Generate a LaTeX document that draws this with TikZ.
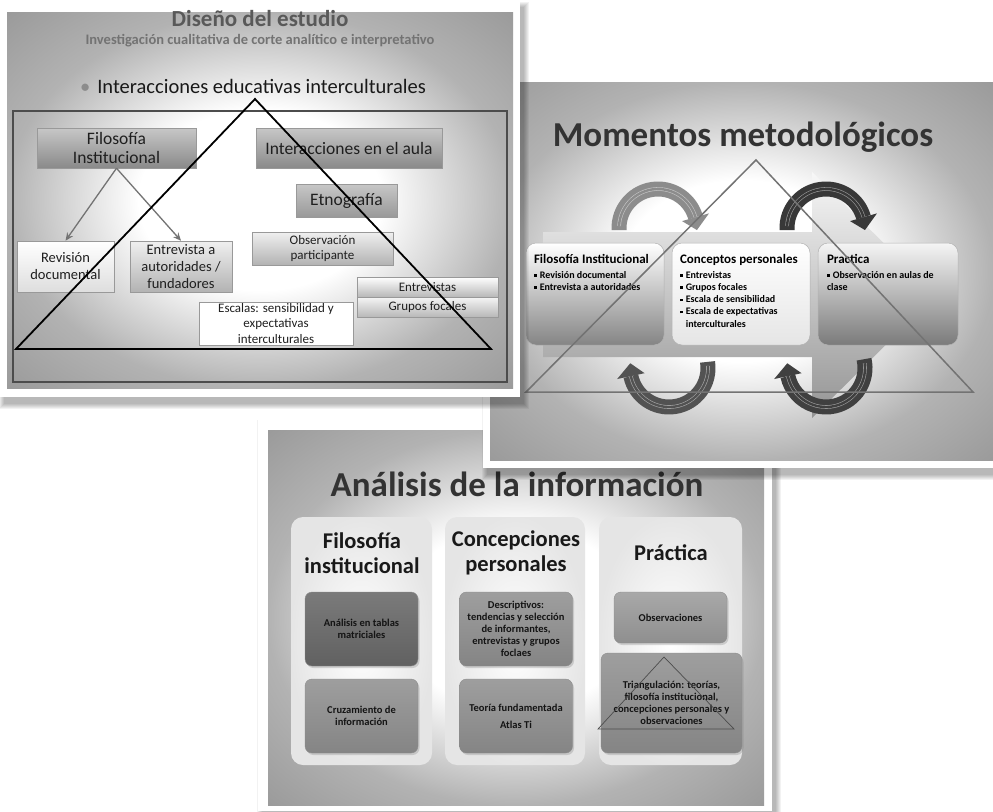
\documentclass[tikz,border=0pt]{standalone}
\usepackage{fontspec}
\setmainfont{Carlito}
\usetikzlibrary{arrows.meta,shadows}

\pgfdeclareradialshading{slideshade}{\pgfpoint{0bp}{0bp}}{%
  color(0bp)=(white); color(12bp)=(white); color(25bp)=(black!30); color(36bp)=(black!40); color(50bp)=(black!42)}

%% soft shadow under a slide
\newcommand\slideshadow[4]{%
  \foreach \k in {0,...,5}
    \fill[black,opacity=.05] ({#1+4-\k},{#2+7-\k}) rectangle ({#3+4+\k},{#4+7+\k});
}
%% curved block arrow: centre, start, end, tip angle, colour
\newcommand\roundarrow[5]{%
  \draw[#5, line width=15pt] ([shift={(#2:39)}]#1) arc[start angle=#2, end angle=#3, radius=39];
  \draw[white!50!#5, line width=.6pt, double=#5, double distance=2.4pt]
    ([shift={({#2+6}:39)}]#1) arc[start angle={#2+6}, end angle=#3, radius=39];
  \fill[#5] ([shift={(#3:53)}]#1) -- ([shift={(#4:39)}]#1) -- ([shift={(#3:25)}]#1) -- cycle;
}
\newcommand\mbul{\par\hangindent=5.8pt\hangafter=1\noindent\rule[1.6pt]{2.6pt}{2.6pt}\hspace{3.2pt}}
\newcommand\mtext[2]{\parbox[c][80pt][t]{122pt}{\raggedright
  {\fontsize{13}{15}\selectfont\bfseries #1\par}\vspace{3pt}%
  \fontsize{10}{12.2}\selectfont\bfseries #2\par}}

\tikzset{
  ttl/.style={font=\fontsize{35}{40}\selectfont\bfseries, text=black!80},
  dbox/.style={draw=black!40, line width=.5pt, top color=black!22, bottom color=black!46,
    text=black!88, align=center, inner sep=0pt},
  lbox/.style={dbox, top color=black!6, bottom color=black!30},
  farrow/.style={draw=black!55, line width=1.3pt, -{Stealth[length=8pt,width=7pt]}},
  mbox/.style={draw=black!30, line width=.5pt, rounded corners=10pt, inner xsep=8pt,
    inner ysep=11pt, minimum width=138pt},
  panel/.style={rounded corners=12pt, inner color=white, outer color=black!10, minimum height=248pt},
  phead/.style={font=\fontsize{22.5}{25}\selectfont\bfseries, align=center, text=black!90},
  abox/.style={rounded corners=7pt, draw=black!45, line width=.4pt, top color=black!38,
    bottom color=black!48, align=center, minimum width=113pt, minimum height=74pt,
    font=\fontsize{10.5}{12}\selectfont\bfseries, text=black!92,
    drop shadow={opacity=.3, shadow xshift=1.5pt, shadow yshift=-2pt}},
}

\begin{document}
\begin{tikzpicture}[x=1pt,y=-1pt]
  \useasboundingbox[fill=white] (0,0) rectangle (993,811);

  %% slide 3: analisis
  \slideshadow{258}{418}{772}{811}
  \fill[white] (258,418) rectangle (772,811);
  \shade[shading=slideshade] (268,430) rectangle (764,805);
  \node[ttl] (tanalisis) at (517,484) {Análisis de la información};
  \node[panel, minimum width=141pt] (pfilo) at (361.5,641) {};
  \node[panel, minimum width=140pt] (pconc) at (515,641) {};
  \node[panel, minimum width=143pt] (pprac) at (670.5,641) {};
  \node[phead] (hfilo) at (362,553) {Filosofía\\institucional};
  \node[phead] (hconc) at (516,553) {Concepciones\\personales};
  \node[phead] (hprac) at (671,553) {Práctica};
  \node[abox, top color=black!52, bottom color=black!62] (tablas) at (361.5,629) {Análisis en tablas\\matriciales};
  \node[abox] (cruce) at (361.5,716) {Cruzamiento de\\información};
  \node[abox] (descr) at (516,629) {Descriptivos:\\tendencias y selección\\de informantes,\\entrevistas y grupos\\foclaes};
  \node[abox] (teoria) at (516,716) {Teoría fundamentada\\[5pt]Atlas Ti};
  \node[abox, minimum height=51pt, top color=black!34, bottom color=black!44] (observ) at (670.5,617.5) {Observaciones};
  \node[abox, minimum width=141pt, minimum height=100pt] (triang) at (671.5,703) {Triangulación: teorías,\\filosofía institucional,\\concepciones personales y\\observaciones};
  \draw[black!70, line width=.7pt] (664,657) -- (598,729) -- (734,729) -- cycle;

  %% slide 2: momentos
  \slideshadow{483}{63}{993}{468}
  \fill[white] (483,63) rectangle (993,468);
  \shade[shading=slideshade] (490,82) rectangle (993,460);
  \node[ttl] (tmomentos) at (743,137) {Momentos metodológicos};
  \shade[top color=black!3, bottom color=black!42] (543,232) -- (812,232) -- (812,172) -- (936,295)
    -- (812,418) -- (812,357) -- (543,357) -- cycle;
  \node[mbox, top color=white, bottom color=black!48] (mfilo) at (595,294)
    {\mtext{Filosofía Institucional}{\mbul Revisión documental\mbul Entrevista a autoridades}};
  \node[mbox, top color=white, bottom color=black!10] (mconc) at (741,294)
    {\mtext{Conceptos personales}{\mbul Entrevistas\mbul Grupos focales\mbul Escala de sensibilidad\mbul Escala de expectativas interculturales}};
  \node[mbox, minimum width=140pt, top color=black!4, bottom color=black!52] (mprac) at (888,294)
    {\mtext{Practica}{\mbul Observación en aulas de\\clase}};
  \coordinate (ctl) at (658,228);
  \coordinate (ctr) at (826,228);
  \coordinate (cbl) at (669,368);
  \coordinate (cbr) at (826,368);
  \roundarrow{ctl}{-183}{-16}{3}{black!45}
  \roundarrow{ctr}{-183}{-16}{3}{black!78}
  \roundarrow{cbl}{-9}{168}{187}{black!68}
  \roundarrow{cbr}{-13}{168}{187}{black!75}
  \draw[black!55, line width=1.5pt] (756,160) -- (526,392) -- (973,392) -- cycle;

  %% slide 1: diseno
  \slideshadow{0}{0}{520}{397}
  \fill[white] (0,0) rectangle (520,397);
  \shade[shading=slideshade] (7,12) rectangle (513,388);
  \node[font=\fontsize{23}{26}\selectfont\bfseries, text=black!65] (tdiseno) at (260,19) {Diseño del estudio};
  \node[font=\fontsize{14.5}{16}\selectfont\bfseries, text=black!55] (tsub) at (260,41) {Investigación cualitativa de corte analítico e interpretativo};
  \node[font=\fontsize{20.5}{23}\selectfont, text=black!90] (tinter) at (253,86) {{\color{black!45}\textbullet}\hspace{7pt}Interacciones educativas interculturales};
  \draw[black!70, line width=1.4pt] (13,111) rectangle (507,382);
  \node[dbox, minimum width=159pt, minimum height=40pt, font=\fontsize{17.5}{19}\selectfont] (filo) at (116.5,148) {Filosofía\\Institucional};
  \node[dbox, minimum width=186pt, minimum height=40pt, font=\fontsize{17.5}{19}\selectfont] (aula) at (349,148) {Interacciones en el aula};
  \node[dbox, minimum width=101pt, minimum height=33pt, font=\fontsize{17.5}{19}\selectfont, bottom color=black!40] (etno) at (346.5,200.5) {Etnografía};
  \node[lbox, minimum width=141pt, minimum height=33pt, font=\fontsize{13}{15.5}\selectfont] (obs) at (322.5,248.5) {Observación\\participante};
  \node[lbox, top color=white, bottom color=black!13, minimum width=97pt, minimum height=51pt, font=\fontsize{14.5}{17}\selectfont] (rev) at (65.5,266.5) {Revisión\\documental};
  \node[lbox, minimum width=102pt, minimum height=51pt, font=\fontsize{14.5}{17}\selectfont] (ent) at (181,266.5) {Entrevista a\\autoridades /\\fundadores};
  \node[lbox, top color=white, bottom color=white, minimum width=154pt, minimum height=43pt, font=\fontsize{13}{15.5}\selectfont] (esc) at (276,323.5) {Escalas: sensibilidad y\\expectativas\\interculturales};
  \node[lbox, top color=white, bottom color=black!28, minimum width=141pt, minimum height=20pt, font=\fontsize{13}{15}\selectfont] (entr) at (427.5,287) {Entrevistas};
  \node[lbox, top color=black!4, bottom color=black!28, minimum width=141pt, minimum height=20pt, font=\fontsize{13}{15}\selectfont] (gru) at (427.5,307) {Grupos focales};
  \draw[farrow] (filo.south) -- (rev.north);
  \draw[farrow] (filo.south) -- (ent.north);
  \draw[black, line width=1.8pt] (255,99) -- (16,349) -- (491,349) -- cycle;
\end{tikzpicture}
\end{document}
